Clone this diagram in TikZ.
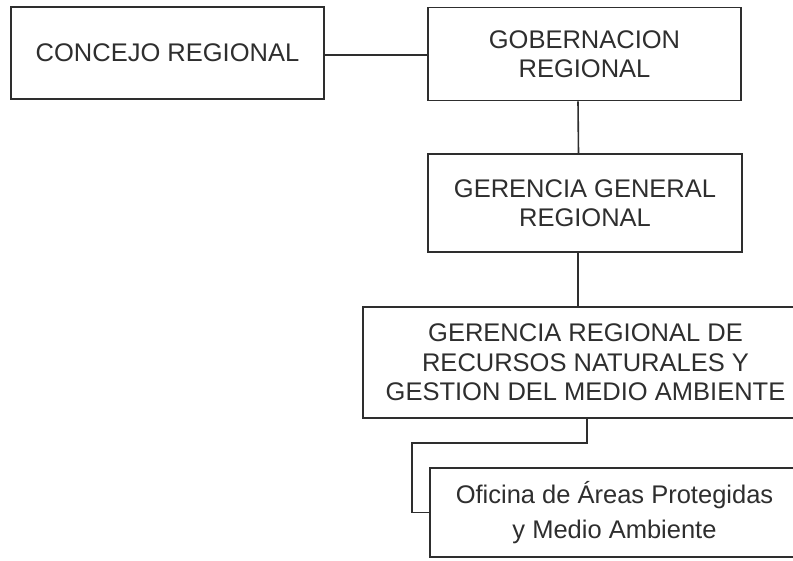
\documentclass[tikz,border=0pt]{standalone}
\usepackage{fontspec}
\setmainfont{Liberation Sans}
\definecolor{ink}{HTML}{2E2E2E}
\begin{document}
\begin{tikzpicture}[x=1pt,y=-1pt,
  orgbox/.style={draw=ink, line width=1.6pt, inner sep=0pt, align=center, text=ink,
    font=\fontsize{25.5}{29.5}\selectfont},
  link/.style={draw=ink, line width=1.6pt}]
\useasboundingbox (0,0) rectangle (793,560);
\clip (0,0) rectangle (793,560);
\node[orgbox, minimum width=313pt, minimum height=92pt] (conc) at (167.5,53) {CONCEJO REGIONAL};
\node[orgbox, minimum width=313pt, minimum height=93pt] (gob) at (584.5,54) {GOBERNACION\\REGIONAL};
\node[orgbox, minimum width=314pt, minimum height=98pt] (gg) at (585,203) {GERENCIA GENERAL\\REGIONAL};
\node[orgbox, minimum width=445pt, minimum height=111pt] (gr) at (585.5,362.5) {GERENCIA REGIONAL DE\\RECURSOS NATURALES Y\\GESTION DEL MEDIO AMBIENTE};
\node[orgbox, minimum width=369pt, minimum height=89pt, font=\fontsize{25.5}{35}\selectfont] (ofi) at (614.5,512.5) {Oficina de Áreas Protegidas\\y Medio Ambiente};
\coordinate (elbow) at (412,443);
\draw[link] ([yshift=-2pt]conc.east) -- ([yshift=-2pt]conc.east -| gob.west);
\draw[link] ([xshift=-6.5pt]gob.south) -- ([xshift=-6.5pt]gg.north);
\draw[link] ([xshift=-7pt]gg.south) -- ([xshift=-7pt]gg.south |- gr.north);
\draw[link] ([xshift=1.5pt]gr.south) |- (elbow) |- (ofi.west);
\end{tikzpicture}
\end{document}
